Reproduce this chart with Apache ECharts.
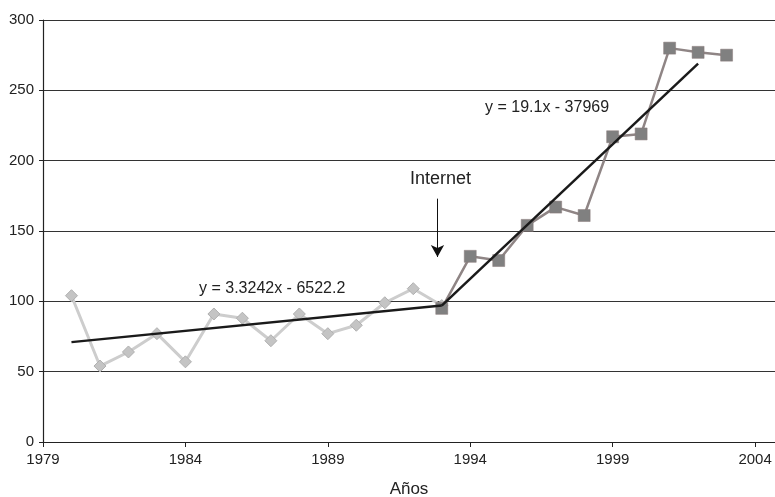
<!DOCTYPE html>
<html>
<head>
<meta charset="utf-8">
<script src="https://cdn.jsdelivr.net/npm/echarts@6/dist/echarts.min.js"></script>
<style>html,body{margin:0;padding:0;background:#fff}#c{width:775px;height:497px}</style>
</head>
<body>
<div id="c"></div>
<script>
// Data
var yearsA = [1980,1981,1982,1983,1984,1985,1986,1987,1988,1989,1990,1991,1992,1993];
var valuesA = [104,54,64,77,57,91,88,72,91,77,83,99,109,97];
var yearsB = [1993,1994,1995,1996,1997,1998,1999,2000,2001,2002,2003];
var valuesB = [95,132,129,154,167,161,217,219,280,277,275];
var trend1 = [[1980,71],[1993,97]];
var trend2 = [[1993,97],[2002,269]];
var xTicks = [1979,1984,1989,1994,1999,2004];
var yTicks = [0,50,100,150,200,250,300];
var eq1 = 'y = 3.3242x - 6522.2';
var eq2 = 'y = 19.1x - 37969';
var arrowFrom = [1992.85,173];
var arrowTo = [1992.85,131.5];

function pairs(xs, ys){ return xs.map(function(x,i){ return [x, ys[i]]; }); }

var chart = echarts.init(document.getElementById('c'));
var font = 'Liberation Sans, Arial, sans-serif';
chart.setOption({
  animation: false,
  backgroundColor: '#fff',
  grid: {left: 43, top: 20, right: 0, bottom: 55, containLabel: false, outerBoundsMode: 'none'},
  xAxis: {
    type: 'value', min: xTicks[0], max: 2004.7, interval: 5,
    name: 'Años', nameLocation: 'middle', nameGap: 39,
    nameTextStyle: {fontFamily: font, fontSize: 17, color: '#222'},
    axisLine: {show: true, lineStyle: {color: '#222', width: 1.2}},
    axisTick: {show: true, length: 5, lineStyle: {color: '#222'}},
    axisLabel: {fontFamily: font, fontSize: 15, color: '#222', margin: 10, showMaxLabel: false,
      formatter: function(v){ return String(v); }},
    splitLine: {show: false}
  },
  yAxis: {
    type: 'value', min: yTicks[0], max: yTicks[yTicks.length-1], interval: 50,
    axisLine: {show: true, lineStyle: {color: '#222', width: 1.2}},
    axisTick: {show: true, length: 4, lineStyle: {color: '#222'}},
    axisLabel: {fontFamily: font, fontSize: 15, color: '#222', margin: 9},
    splitLine: {show: true, lineStyle: {color: '#333', width: 1}}
  },
  series: [
    {
      type: 'line', data: pairs(yearsA, valuesA), symbol: 'diamond', symbolSize: 12,
      lineStyle: {color: '#cdcdcd', width: 3},
      itemStyle: {color: '#c4c4c4', borderColor: '#b0b0b0', borderWidth: 1}, z: 2
    },
    {
      type: 'line', data: pairs(yearsB, valuesB), symbol: 'rect', symbolSize: 12,
      lineStyle: {color: '#8f8585', width: 2.5},
      itemStyle: {color: '#808080', borderColor: '#8a7a7a', borderWidth: 0.5}, z: 3
    },
    {
      type: 'line', data: trend1, symbol: 'none',
      lineStyle: {color: '#1a1a1a', width: 2.5}, z: 4
    },
    {
      type: 'line', data: trend2, symbol: 'none',
      lineStyle: {color: '#1a1a1a', width: 2.5}, z: 4,
      markLine: {
        silent: true, symbol: ['none', 'arrow'], symbolSize: [10, 12],
        label: {show: false},
        lineStyle: {color: '#111', width: 1, type: 'solid'},
        data: [[{coord: arrowFrom}, {coord: arrowTo}]]
      }
    }
  ],
  graphic: [
    {type: 'text', left: 199, top: 281, style: {text: eq1, font: '16px ' + font, fill: '#222'}},
    {type: 'text', left: 485, top: 100, style: {text: eq2, font: '16px ' + font, fill: '#222'}},
    {type: 'text', left: 410, top: 170, style: {text: 'Internet', font: '18px ' + font, fill: '#222'}}
  ]
});
</script>
</body>
</html>
